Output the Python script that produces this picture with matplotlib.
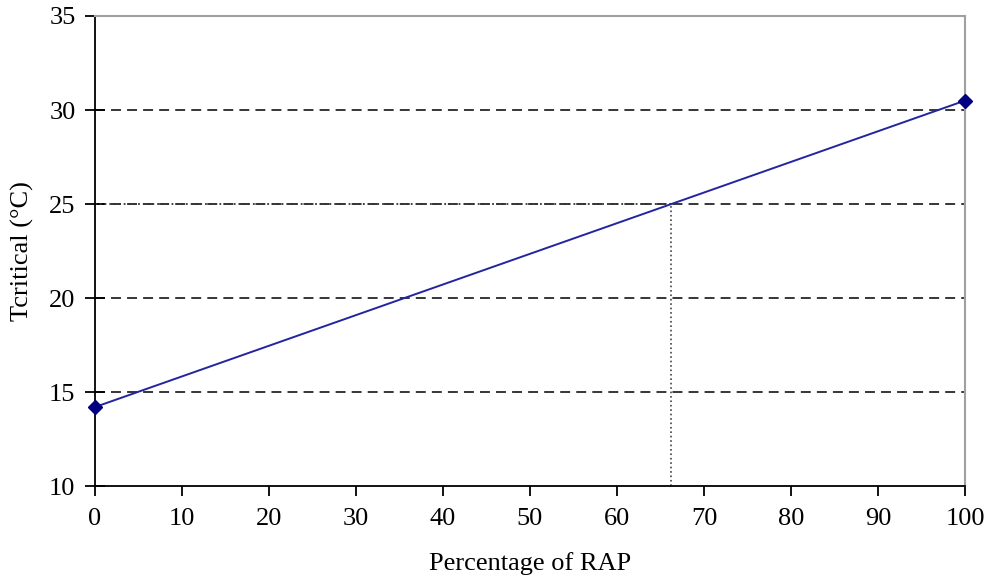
import matplotlib
matplotlib.use('Agg')
import matplotlib.pyplot as plt

# RAP content vs critical temperature
rap_pct = [0, 100]
t_critical = [14.2, 30.5]
target_t = 25
target_rap = 66.2

x_ticks = list(range(0, 101, 10))
y_ticks = list(range(10, 36, 5))

plt.rcParams['font.family'] = ['Liberation Serif', 'DejaVu Serif']

fig = plt.figure(figsize=(9.86, 5.86), dpi=100)
ax = fig.add_axes([0.0963, 0.1706, 0.8824, 0.8021])

# dashed horizontal gridlines
for yv in y_ticks[1:-1]:
    ax.axhline(yv, color='black', linestyle=(0, (6.5, 4)), linewidth=1.1, zorder=1)

# dotted guide lines to the 25 degree crossing
ax.plot([0, target_rap], [target_t, target_t], color='#333333', linestyle=':', linewidth=1.3, zorder=2)
ax.plot([target_rap, target_rap], [10, target_t], color='#444444', linestyle=':', linewidth=1.2, zorder=2)

ax.plot(rap_pct, t_critical, color='#2424a0', linewidth=1.4, marker='D', markersize=7,
        markerfacecolor='#000080', markeredgecolor='#000080', zorder=3, clip_on=False)

ax.set_xlim(0, 100)
ax.set_ylim(10, 35)
ax.set_xticks(x_ticks)
ax.set_yticks(y_ticks)
ax.tick_params(axis='x', direction='out', length=7, width=1.3, labelsize=19, pad=9)
ax.tick_params(axis='y', direction='inout', length=14, width=1.3, labelsize=19, pad=7)

ax.spines['left'].set_linewidth(1.3)
ax.spines['bottom'].set_linewidth(1.3)
ax.spines['top'].set_color('#a0a0a0')
ax.spines['right'].set_color('#a0a0a0')
ax.spines['top'].set_linewidth(1.5)
ax.spines['right'].set_linewidth(1.5)

ax.set_xlabel('Percentage of RAP', fontsize=19, labelpad=16)
ax.set_ylabel('Tcritical (°C)', fontsize=19, labelpad=11)

fig.savefig('out.png', dpi=100)
